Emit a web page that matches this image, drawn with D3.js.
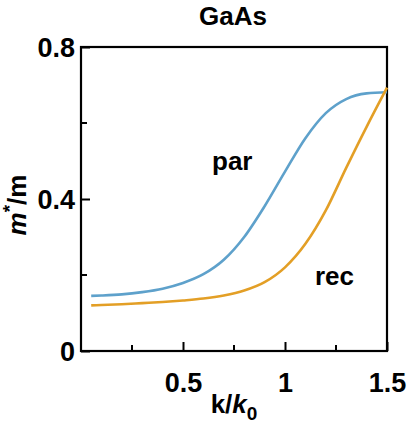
<html>
  <head>
    <meta charset="utf-8">
    <title>GaAs</title>
    <script src="https://cdn.jsdelivr.net/npm/d3@7"></script>
  </head>
<style>
  body { margin: 0; background: #fff; }
  svg text { font-family: "Liberation Sans", Arial, sans-serif; font-weight: bold; fill: #000; }
</style>
<body>
<div id="chart"></div>
<script>
  // data
  var kValues   = [0.05, 0.1, 0.2, 0.3, 0.4, 0.5, 0.6, 0.7, 0.8, 0.9, 1.0, 1.1, 1.2, 1.3, 1.4, 1.5];
  var parValues = [0.145, 0.146, 0.149, 0.155, 0.164, 0.179, 0.202, 0.240, 0.300, 0.381, 0.472, 0.560, 0.626, 0.663, 0.678, 0.681];
  var recValues = [0.120, 0.121, 0.123, 0.126, 0.129, 0.133, 0.138, 0.146, 0.159, 0.181, 0.220, 0.282, 0.370, 0.482, 0.590, 0.693];
  var xMajor = [0.5, 1, 1.5];
  var xMinor = [0.25, 0.75, 1.25];
  var yMajor = [0, 0.4, 0.8];
  var yMinor = [0.2, 0.6];

  var width = 407, height = 427;
  var mLeft = 81, mRight = 387, mTop = 47, mBottom = 351;

  var svg = d3.select("#chart").append("svg")
      .attr("width", width)
      .attr("height", height);

  var x = d3.scaleLinear().domain([0, 1.5]).range([mLeft, mRight]);
  var y = d3.scaleLinear().domain([0, 0.8]).range([mBottom, mTop]);

  // ticks, pointing inward
  var xAxis = d3.axisBottom(x).tickValues(xMajor).tickSizeInner(-9).tickSizeOuter(0)
      .tickPadding(22).tickFormat(d3.format("~g"));
  var gx = svg.append("g").attr("transform", "translate(0," + mBottom + ")").call(xAxis);
  gx.select(".domain").remove();
  gx.selectAll("line").attr("stroke", "#000").attr("stroke-width", 2);
  gx.selectAll("text").attr("font-size", 27).attr("font-family", null);

  svg.append("g").selectAll("line").data(xMinor).enter().append("line")
      .attr("x1", x).attr("x2", x).attr("y1", mBottom).attr("y2", mBottom - 6)
      .attr("stroke", "#000").attr("stroke-width", 2);

  var yAxis = d3.axisLeft(y).tickValues(yMajor).tickSizeInner(-9).tickSizeOuter(0)
      .tickFormat(d3.format("~g"));
  var gy = svg.append("g").attr("transform", "translate(" + mLeft + ",0)").call(yAxis);
  gy.select(".domain").remove();
  gy.selectAll("line").attr("stroke", "#000").attr("stroke-width", 2);
  gy.selectAll(".tick text").attr("font-size", 27).attr("font-family", null)
      .attr("x", -6).attr("dy", "0.36em").attr("text-anchor", "end");

  svg.append("g").selectAll("line").data(yMinor).enter().append("line")
      .attr("x1", mLeft).attr("x2", mLeft + 6).attr("y1", y).attr("y2", y)
      .attr("stroke", "#000").attr("stroke-width", 2);

  // frame
  svg.append("rect")
      .attr("x", mLeft).attr("y", mTop)
      .attr("width", mRight - mLeft).attr("height", mBottom - mTop)
      .attr("fill", "none").attr("stroke", "#000").attr("stroke-width", 2.2);

  // curves
  var line = d3.line().curve(d3.curveMonotoneX);
  function pts(vals) { return kValues.map(function(k, i) { return [x(k), y(vals[i])]; }); }

  svg.append("path").attr("d", line(pts(parValues)))
      .attr("fill", "none").attr("stroke", "#5ea1cb").attr("stroke-width", 2.6);
  svg.append("path").attr("d", line(pts(recValues)))
      .attr("fill", "none").attr("stroke", "#e39f26").attr("stroke-width", 2.6);

  // labels
  svg.append("text").attr("x", (mLeft + mRight) / 2 - 1).attr("y", 25)
      .attr("text-anchor", "middle").attr("font-size", 26).text("GaAs");

  svg.append("text").attr("x", 212).attr("y", 170).attr("font-size", 26).text("par");
  svg.append("text").attr("x", 315).attr("y", 285).attr("font-size", 26).text("rec");

  var xl = svg.append("text").attr("x", (mLeft + mRight) / 2).attr("y", 413)
      .attr("text-anchor", "middle").attr("font-size", 26);
  xl.append("tspan").text("k/");
  xl.append("tspan").attr("font-style", "italic").text("k");
  xl.append("tspan").attr("font-size", 19).attr("dy", 7).text("0");

  var yl = svg.append("text").attr("transform", "translate(26," + 205 + ") rotate(-90)")
      .attr("text-anchor", "middle").attr("font-size", 26);
  yl.append("tspan").attr("font-style", "italic").text("m");
  yl.append("tspan").attr("font-size", 19).attr("dy", -10).text("*");
  yl.append("tspan").attr("dy", 10).text("/m");
</script>
</body>
</html>
